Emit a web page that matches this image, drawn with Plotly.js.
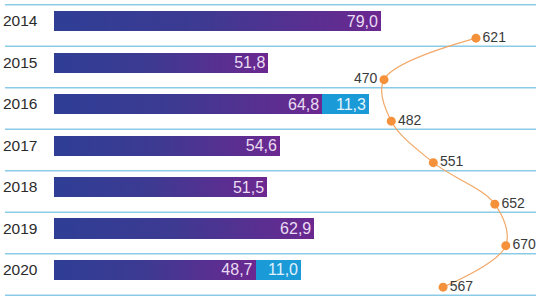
<!DOCTYPE html>
<html>
<head>
<meta charset="utf-8">
<script src="https://cdn.plot.ly/plotly-3.0.1.min.js"></script>
<style>
  html, body { margin: 0; padding: 0; background: #ffffff; }
  #chart { width: 541px; height: 300px; }
</style>
</head>
<body>
<div id="chart"></div>
<script>
// ---- data ----
const years = ['2014', '2015', '2016', '2017', '2018', '2019', '2020'];
const mainValues = [79.0, 51.8, 64.8, 54.6, 51.5, 62.9, 48.7];
const extraValues = [null, null, 11.3, null, null, null, 11.0];
const lineValues = [621, 470, 482, 551, 652, 670, 567];
const lineLabelSides = ['middle right', 'middle left', 'middle right', 'middle right', 'middle right', 'middle right', 'middle right'];

// ---- helpers ----
const fmt = v => (v === null ? '' : v.toFixed(1).replace('.', ','));
const rows = years.map((_, i) => i);

const FONT = 'Liberation Sans, Arial, sans-serif';

const traces = [
  {
    type: 'bar', orientation: 'h',
    y: rows, x: mainValues,
    text: mainValues.map(fmt),
    textposition: 'inside', insidetextanchor: 'end',
    constraintext: 'none', textangle: 0,
    textfont: { family: FONT, size: 16, color: '#eadcf2' },
    marker: { color: '#4a3592', line: { width: 0 } },
    hoverinfo: 'none', showlegend: false
  },
  {
    type: 'bar', orientation: 'h',
    y: rows, x: extraValues,
    text: extraValues.map(fmt),
    textposition: 'inside', insidetextanchor: 'end',
    constraintext: 'none', textangle: 0,
    textfont: { family: FONT, size: 16, color: '#e3f2fb' },
    marker: { color: '#1a9bd8', line: { width: 0 } },
    hoverinfo: 'none', showlegend: false
  },
  {
    type: 'scatter', mode: 'lines+markers+text',
    xaxis: 'x2', yaxis: 'y2',
    y: rows, x: lineValues,
    text: lineValues.map(String),
    textposition: lineLabelSides,
    textfont: { family: FONT, size: 14, color: '#3a3a3a' },
    line: { shape: 'spline', smoothing: 1, color: '#f2a766', width: 1.2 },
    marker: { color: '#f5913a', size: 9 },
    cliponaxis: false,
    hoverinfo: 'none', showlegend: false
  }
];

const shapes = [];
for (let k = 0; k <= years.length; k++) {
  shapes.push({
    type: 'line', xref: 'paper', yref: 'y',
    x0: 0.0092, x1: 0.9908, y0: k - 0.39, y1: k - 0.39,
    line: { color: '#8ccbe8', width: 1.6 }, layer: 'below'
  });
}

const layout = {
  width: 541, height: 300,
  margin: { l: 0, r: 0, t: 0, b: 0, pad: 0 },
  paper_bgcolor: '#ffffff', plot_bgcolor: '#ffffff',
  barmode: 'stack', bargap: 0.518,
  showlegend: false,
  font: { family: FONT },
  xaxis: {
    range: [-13.05, 117.66], visible: false, fixedrange: true
  },
  xaxis2: {
    range: [-160.5, 727.8], overlaying: 'x', visible: false, fixedrange: true
  },
  yaxis: {
    range: [6.723, -0.506],
    tickvals: rows, ticktext: years,
    ticklabelposition: 'inside',
    ticks: '', showgrid: false, zeroline: false, showline: false,
    tickfont: { family: FONT, size: 15.5, color: '#2b2b2b' },
    fixedrange: true
  },
  yaxis2: {
    range: [6.31, -0.92], overlaying: 'y', visible: false, fixedrange: true
  },
  shapes: shapes
};

Plotly.newPlot('chart', traces, layout, { displayModeBar: false, staticPlot: true }).then(gd => {
  // horizontal gradient on the main series bars (per bar, via objectBoundingBox)
  const svg = gd.querySelector('svg.main-svg');
  const defs = svg.querySelector('defs');
  const ns = 'http://www.w3.org/2000/svg';
  const grad = document.createElementNS(ns, 'linearGradient');
  grad.setAttribute('id', 'barGrad');
  grad.setAttribute('x1', '0'); grad.setAttribute('x2', '1');
  grad.setAttribute('y1', '0'); grad.setAttribute('y2', '0');
  [['0%', '#2f3e95'], ['45%', '#3d3a92'], ['100%', '#6b2890']].forEach(([o, c]) => {
    const s = document.createElementNS(ns, 'stop');
    s.setAttribute('offset', o); s.setAttribute('stop-color', c);
    grad.appendChild(s);
  });
  defs.appendChild(grad);
  const barTraces = gd.querySelectorAll('.barlayer .trace.bars');
  if (barTraces.length) {
    barTraces[0].querySelectorAll('.point path').forEach(p => {
      p.style.fill = 'url(#barGrad)';
    });
  }
});
</script>
</body>
</html>
